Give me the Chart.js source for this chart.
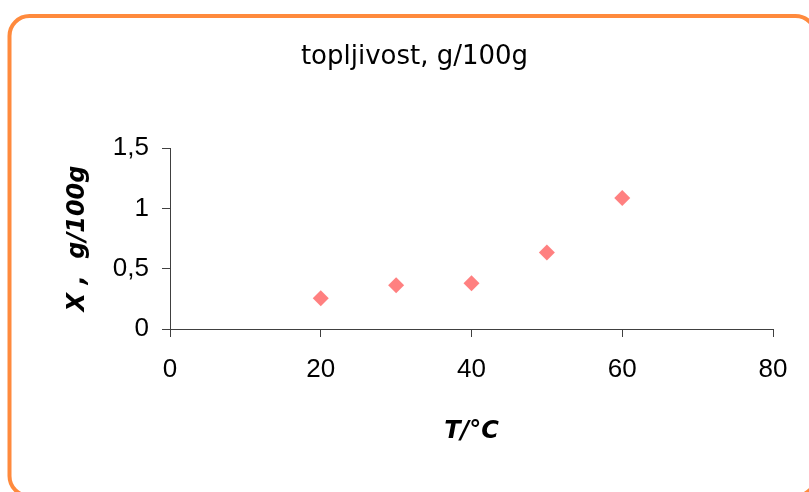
<!DOCTYPE html>
<html>
<head>
<meta charset="utf-8">
<script src="https://cdn.jsdelivr.net/npm/chart.js@4"></script>
<style>
  html, body { margin: 0; padding: 0; background: #fff; }
  #wrap { width: 809px; height: 492px; position: relative; }
</style>
</head>
<body>
<div id="wrap"><canvas id="c" width="809" height="492"></canvas></div>
<script>
// data
const temps = [20, 30, 40, 50, 60];          // T / °C
const solubility = [0.255, 0.363, 0.379, 0.633, 1.085];  // X, g/100g
const xTicks = [0, 20, 40, 60, 80];
const yTicks = [0, 0.5, 1, 1.5];

const points = temps.map((t, i) => ({ x: t, y: solubility[i] }));

const comic = '"Comic Sans MS", "DejaVu Sans", sans-serif';

// orange rounded frame round the whole chart
const frame = {
    id: 'frame',
    afterDraw(chart) {
        const ctx = chart.ctx;
        ctx.save();
        ctx.strokeStyle = '#FF8A3D';
        ctx.lineWidth = 4;
        ctx.beginPath();
        ctx.roundRect(9.5, 16, 806, 480, 20);
        ctx.stroke();
        ctx.restore();
    }
};

new Chart(document.getElementById('c'), {
    type: 'scatter',
    data: {
        datasets: [{
            data: points,
            pointStyle: 'rectRot',
            pointRadius: 8,
            pointHoverRadius: 8,
            backgroundColor: '#FF8080',
            borderColor: '#FF8080',
            borderWidth: 0
        }]
    },
    plugins: [frame],
    options: {
        responsive: false,
        animation: false,
        layout: { padding: { left: 20, right: 0, top: 0, bottom: 0 } },
        plugins: {
            legend: { display: false },
            tooltip: { enabled: false },
            title: {
                display: true,
                text: 'topljivost, g/100g',
                color: '#000',
                font: { family: comic, size: 26, weight: 'normal' },
                padding: { top: 42, bottom: 74.8 }
            }
        },
        scales: {
            x: {
                type: 'linear',
                min: 0,
                max: 80,
                afterBuildTicks: s => { s.ticks = xTicks.map(v => ({ value: v })); },
                afterFit: s => { s.height = 492 - 329; },
                border: { color: '#404040', width: 1 },
                grid: { drawOnChartArea: false, tickLength: 8, color: '#404040' },
                ticks: {
                    color: '#000',
                    padding: 17,
                    font: { family: 'Arial, "Liberation Sans"', size: 26 }
                },
                title: {
                    display: true,
                    text: 'T/°C',
                    color: '#000',
                    font: { family: comic, size: 24, weight: 'bold', style: 'italic' },
                    padding: { top: 0, bottom: 46 }
                }
            },
            y: {
                min: 0,
                max: 1.5,
                afterBuildTicks: s => { s.ticks = yTicks.map(v => ({ value: v })); },
                afterFit: s => { s.width = 150; },
                border: { color: '#404040', width: 1 },
                grid: { drawOnChartArea: false, tickLength: 8, color: '#404040' },
                ticks: {
                    color: '#000',
                    padding: 13,
                    font: { family: 'Arial, "Liberation Sans"', size: 26 },
                    callback: v => String(v).replace('.', ',')
                },
                title: {
                    display: true,
                    text: 'X ,  g/100g',
                    color: '#000',
                    font: { family: comic, size: 24, weight: 'bold', style: 'italic' },
                    padding: { top: 43, bottom: 0 }
                }
            },
            // empty strip on the right so the plot ends at T = 80 like the original
            yRight: {
                position: 'right',
                display: true,
                border: { display: false },
                grid: { display: false },
                ticks: { display: false },
                afterFit: s => { s.width = 36; }
            }
        }
    }
});
</script>
</body>
</html>
